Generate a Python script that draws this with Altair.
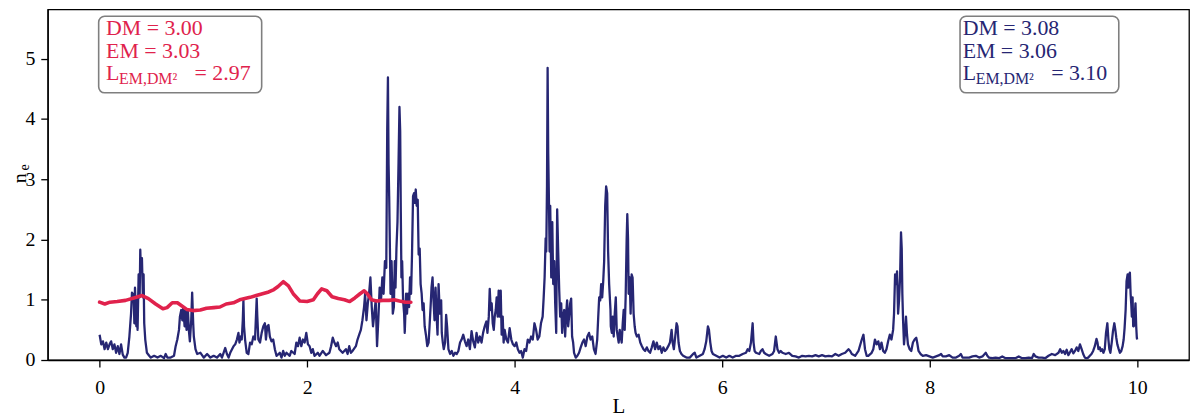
import altair as alt
import pandas as pd

# ---- data ----
blue_points = [
    (0.000, 0.42), (0.016, 0.26), (0.032, 0.31), (0.048, 0.18), (0.064, 0.29), (0.080, 0.18),
    (0.096, 0.26), (0.111, 0.31), (0.127, 0.18), (0.143, 0.26), (0.159, 0.12), (0.175, 0.23),
    (0.191, 0.10), (0.207, 0.26), (0.223, 0.09), (0.239, 0.04), (0.255, 0.04), (0.271, 0.12),
    (0.287, 0.39), (0.303, 0.77), (0.312, 1.12), (0.328, 1.07), (0.335, 0.61), (0.341, 1.20),
    (0.354, 0.56), (0.360, 1.04), (0.366, 0.50), (0.376, 1.42), (0.386, 1.04), (0.392, 1.83),
    (0.398, 1.47), (0.408, 1.69), (0.417, 1.04), (0.424, 1.42), (0.430, 0.61), (0.440, 0.34),
    (0.456, 0.12), (0.478, 0.07), (0.494, 0.04), (0.526, 0.07), (0.558, 0.04), (0.590, 0.07),
    (0.621, 0.03), (0.637, 0.10), (0.653, 0.04), (0.685, 0.04), (0.717, 0.07), (0.733, 0.23),
    (0.749, 0.34), (0.765, 0.50), (0.774, 0.72), (0.787, 0.83), (0.797, 0.66), (0.806, 0.88),
    (0.819, 0.56), (0.829, 0.83), (0.838, 0.50), (0.851, 0.83), (0.860, 0.50), (0.870, 0.31),
    (0.883, 0.66), (0.892, 1.12), (0.902, 0.61), (0.908, 0.39), (0.924, 0.18), (0.940, 0.10),
    (0.972, 0.12), (1.004, 0.04), (1.036, 0.10), (1.068, 0.04), (1.099, 0.07), (1.131, 0.04),
    (1.163, 0.10), (1.179, 0.04), (1.195, 0.12), (1.211, 0.20), (1.227, 0.10), (1.243, 0.04),
    (1.259, 0.12), (1.291, 0.23), (1.307, 0.26), (1.323, 0.34), (1.338, 0.45), (1.348, 0.29),
    (1.361, 0.39), (1.370, 0.34), (1.380, 0.66), (1.386, 0.99), (1.392, 0.56), (1.402, 0.34),
    (1.418, 0.12), (1.434, 0.10), (1.450, 0.29), (1.466, 0.26), (1.482, 0.39), (1.498, 0.34),
    (1.514, 1.02), (1.520, 0.72), (1.530, 0.34), (1.546, 0.29), (1.562, 0.45), (1.578, 0.56),
    (1.593, 0.61), (1.603, 0.34), (1.616, 0.56), (1.628, 0.58), (1.641, 0.39), (1.657, 0.31),
    (1.673, 0.34), (1.689, 0.18), (1.705, 0.07), (1.737, 0.12), (1.753, 0.04), (1.769, 0.15),
    (1.785, 0.07), (1.801, 0.12), (1.832, 0.07), (1.848, 0.15), (1.880, 0.10), (1.896, 0.29),
    (1.912, 0.23), (1.928, 0.37), (1.944, 0.23), (1.960, 0.34), (1.976, 0.29), (1.992, 0.45),
    (2.008, 0.26), (2.024, 0.23), (2.040, 0.12), (2.055, 0.18), (2.071, 0.07), (2.103, 0.12),
    (2.119, 0.07), (2.151, 0.15), (2.183, 0.08), (2.215, 0.12), (2.231, 0.23), (2.247, 0.37),
    (2.263, 0.29), (2.279, 0.23), (2.295, 0.29), (2.310, 0.18), (2.342, 0.12), (2.374, 0.18),
    (2.390, 0.10), (2.406, 0.23), (2.422, 0.12), (2.438, 0.15), (2.470, 0.23), (2.486, 0.34),
    (2.502, 0.42), (2.518, 0.50), (2.533, 0.66), (2.549, 0.88), (2.559, 1.10), (2.572, 0.66),
    (2.585, 0.94), (2.597, 1.10), (2.610, 1.37), (2.623, 0.88), (2.635, 0.56), (2.648, 0.77),
    (2.661, 0.99), (2.674, 0.23), (2.686, 0.66), (2.699, 1.20), (2.712, 0.99), (2.725, 1.37),
    (2.737, 1.10), (2.750, 1.64), (2.763, 1.53), (2.772, 3.80), (2.779, 4.69), (2.785, 3.26),
    (2.791, 2.72), (2.798, 1.85), (2.804, 1.10), (2.814, 1.64), (2.826, 0.77), (2.836, 0.88),
    (2.845, 1.64), (2.852, 1.20), (2.861, 1.85), (2.871, 2.29), (2.881, 3.26), (2.890, 4.20),
    (2.897, 3.80), (2.903, 2.45), (2.909, 1.37), (2.916, 1.64), (2.925, 0.99), (2.935, 0.77),
    (2.941, 0.45), (2.954, 1.10), (2.963, 0.77), (2.973, 1.10), (2.983, 0.88), (2.992, 1.37),
    (3.002, 1.10), (3.011, 1.75), (3.021, 2.72), (3.031, 2.77), (3.037, 2.61), (3.047, 2.83),
    (3.056, 2.56), (3.066, 2.66), (3.075, 1.75), (3.085, 1.85), (3.094, 1.26), (3.104, 1.10),
    (3.113, 0.83), (3.123, 0.94), (3.133, 0.56), (3.145, 0.42), (3.158, 0.23), (3.171, 0.29),
    (3.180, 0.56), (3.190, 0.88), (3.199, 1.20), (3.209, 1.37), (3.218, 0.99), (3.228, 0.66),
    (3.238, 1.20), (3.247, 0.77), (3.257, 0.42), (3.267, 1.26), (3.279, 0.77), (3.292, 0.99),
    (3.298, 0.45), (3.308, 0.29), (3.317, 0.18), (3.330, 0.29), (3.340, 0.75), (3.349, 0.56),
    (3.362, 0.18), (3.378, 0.10), (3.394, 0.15), (3.410, 0.07), (3.426, 0.12), (3.442, 0.10),
    (3.458, 0.15), (3.474, 0.29), (3.489, 0.34), (3.505, 0.42), (3.521, 0.31), (3.537, 0.23),
    (3.553, 0.34), (3.569, 0.18), (3.585, 0.48), (3.601, 0.31), (3.617, 0.21), (3.633, 0.45),
    (3.649, 0.29), (3.665, 0.39), (3.681, 0.29), (3.696, 0.45), (3.712, 0.56), (3.728, 0.64),
    (3.738, 0.45), (3.751, 0.72), (3.760, 1.18), (3.770, 0.83), (3.779, 0.94), (3.789, 0.61),
    (3.799, 0.50), (3.808, 0.72), (3.818, 0.83), (3.827, 1.04), (3.837, 0.72), (3.846, 1.15),
    (3.856, 0.72), (3.866, 1.15), (3.875, 0.42), (3.885, 0.72), (3.894, 0.29), (3.904, 0.50),
    (3.920, 0.34), (3.936, 0.29), (3.952, 0.53), (3.968, 0.34), (3.984, 0.26), (4.000, 0.23),
    (4.016, 0.29), (4.031, 0.18), (4.047, 0.12), (4.063, 0.15), (4.079, 0.04), (4.095, 0.18),
    (4.111, 0.15), (4.127, 0.34), (4.143, 0.29), (4.159, 0.39), (4.175, 0.34), (4.191, 0.61),
    (4.207, 0.50), (4.222, 0.34), (4.238, 0.39), (4.254, 0.61), (4.270, 0.72), (4.280, 1.04),
    (4.289, 1.37), (4.299, 2.02), (4.305, 1.80), (4.312, 2.88), (4.318, 4.85), (4.324, 3.42),
    (4.331, 2.61), (4.337, 1.80), (4.343, 2.56), (4.353, 1.37), (4.363, 2.29), (4.372, 1.26),
    (4.382, 1.64), (4.391, 0.94), (4.401, 0.45), (4.410, 2.50), (4.420, 1.80), (4.430, 1.15),
    (4.439, 0.72), (4.449, 0.94), (4.458, 0.45), (4.468, 0.72), (4.478, 0.83), (4.487, 0.39),
    (4.497, 0.77), (4.506, 0.99), (4.516, 0.56), (4.525, 0.72), (4.535, 0.94), (4.545, 1.02),
    (4.554, 0.39), (4.564, 0.29), (4.573, 0.12), (4.589, 0.04), (4.605, 0.07), (4.621, 0.12),
    (4.637, 0.21), (4.653, 0.29), (4.669, 0.34), (4.685, 0.23), (4.701, 0.39), (4.717, 0.45),
    (4.732, 0.34), (4.748, 0.39), (4.764, 0.18), (4.780, 0.10), (4.796, 0.34), (4.806, 0.72),
    (4.815, 1.04), (4.825, 0.99), (4.834, 1.26), (4.844, 1.04), (4.854, 1.31), (4.863, 1.64),
    (4.873, 2.56), (4.882, 2.88), (4.892, 2.77), (4.901, 1.80), (4.911, 1.26), (4.924, 0.83),
    (4.927, 0.56), (4.937, 0.45), (4.946, 0.72), (4.955, 0.39), (4.965, 0.77), (4.975, 1.04),
    (4.984, 0.50), (4.994, 0.39), (5.003, 0.29), (5.013, 0.50), (5.022, 0.39), (5.032, 0.29),
    (5.042, 0.61), (5.051, 0.83), (5.061, 0.50), (5.070, 1.04), (5.080, 2.02), (5.086, 2.42),
    (5.093, 2.02), (5.099, 1.10), (5.109, 1.37), (5.118, 0.77), (5.128, 1.42), (5.137, 1.37),
    (5.147, 0.77), (5.157, 0.56), (5.166, 0.45), (5.179, 0.39), (5.195, 0.42), (5.211, 0.29),
    (5.227, 0.23), (5.242, 0.18), (5.258, 0.15), (5.274, 0.21), (5.290, 0.15), (5.306, 0.12),
    (5.322, 0.21), (5.338, 0.31), (5.354, 0.18), (5.370, 0.29), (5.386, 0.18), (5.402, 0.23),
    (5.418, 0.12), (5.434, 0.21), (5.449, 0.15), (5.465, 0.18), (5.481, 0.23), (5.497, 0.29),
    (5.513, 0.50), (5.523, 0.29), (5.535, 0.18), (5.548, 0.39), (5.561, 0.61), (5.570, 0.56),
    (5.580, 0.29), (5.593, 0.15), (5.608, 0.10), (5.624, 0.07), (5.656, 0.04), (5.688, 0.04),
    (5.720, 0.10), (5.736, 0.12), (5.752, 0.04), (5.784, 0.07), (5.815, 0.10), (5.831, 0.18),
    (5.847, 0.31), (5.863, 0.56), (5.873, 0.50), (5.886, 0.29), (5.898, 0.15), (5.911, 0.10),
    (5.943, 0.07), (5.975, 0.04), (6.007, 0.07), (6.039, 0.04), (6.070, 0.07), (6.102, 0.04),
    (6.134, 0.07), (6.166, 0.07), (6.198, 0.10), (6.230, 0.12), (6.246, 0.18), (6.262, 0.15),
    (6.278, 0.29), (6.294, 0.61), (6.303, 0.29), (6.313, 0.15), (6.326, 0.12), (6.358, 0.10),
    (6.373, 0.15), (6.389, 0.18), (6.405, 0.12), (6.421, 0.10), (6.453, 0.07), (6.485, 0.10),
    (6.501, 0.15), (6.517, 0.39), (6.533, 0.18), (6.549, 0.12),
    (6.565, 0.15), (6.581, 0.12), (6.613, 0.10), (6.644, 0.12), (6.676, 0.07), (6.708, 0.06),
    (6.740, 0.04), (6.772, 0.07), (6.804, 0.06), (6.836, 0.07), (6.868, 0.06), (6.900, 0.08),
    (6.931, 0.06), (6.963, 0.08), (6.995, 0.06), (7.027, 0.07), (7.059, 0.06), (7.091, 0.10),
    (7.123, 0.07), (7.154, 0.10), (7.186, 0.12), (7.218, 0.18), (7.234, 0.15), (7.250, 0.10),
    (7.282, 0.07), (7.314, 0.15), (7.346, 0.34), (7.362, 0.42), (7.377, 0.18), (7.393, 0.07),
    (7.409, 0.07), (7.441, 0.12), (7.457, 0.18), (7.473, 0.34), (7.489, 0.26), (7.505, 0.31),
    (7.521, 0.18), (7.536, 0.29), (7.552, 0.15), (7.568, 0.12), (7.584, 0.18), (7.600, 0.31),
    (7.616, 0.42), (7.632, 0.34), (7.648, 0.50), (7.657, 0.77), (7.667, 1.42), (7.677, 1.26),
    (7.686, 1.47), (7.696, 0.77), (7.705, 0.99), (7.715, 1.37), (7.724, 2.12), (7.731, 1.85),
    (7.737, 1.10), (7.744, 0.66), (7.753, 0.26), (7.763, 0.45), (7.772, 0.72), (7.782, 0.42),
    (7.791, 0.26), (7.807, 0.18), (7.823, 0.15), (7.839, 0.29), (7.855, 0.34), (7.871, 0.37),
    (7.880, 0.29), (7.893, 0.15), (7.912, 0.10), (7.934, 0.07), (7.966, 0.08), (7.998, 0.06),
    (8.030, 0.04), (8.062, 0.06), (8.094, 0.08), (8.110, 0.10), (8.126, 0.06), (8.157, 0.06),
    (8.189, 0.08),
    (8.222, 0.04), (8.254, 0.04), (8.285, 0.07), (8.301, 0.10), (8.317, 0.04), (8.349, 0.04),
    (8.381, 0.04), (8.413, 0.06), (8.445, 0.07), (8.477, 0.04), (8.509, 0.06), (8.541, 0.12),
    (8.556, 0.07), (8.572, 0.04), (8.604, 0.03), (8.636, 0.04), (8.668, 0.03), (8.700, 0.06),
    (8.732, 0.03), (8.764, 0.03), (8.795, 0.03), (8.827, 0.03), (8.859, 0.06), (8.891, 0.03),
    (8.923, 0.03), (8.955, 0.04), (8.987, 0.03), (9.003, 0.10), (9.019, 0.06), (9.050, 0.04),
    (9.082, 0.04), (9.114, 0.03), (9.146, 0.07), (9.178, 0.10), (9.210, 0.08), (9.242, 0.12),
    (9.258, 0.18), (9.274, 0.12), (9.289, 0.15), (9.305, 0.10), (9.321, 0.17), (9.337, 0.08),
    (9.353, 0.13), (9.369, 0.18), (9.385, 0.11), (9.401, 0.15), (9.417, 0.21), (9.433, 0.15),
    (9.449, 0.26), (9.465, 0.18), (9.480, 0.10), (9.496, 0.04), (9.512, 0.03), (9.528, 0.04),
    (9.544, 0.07), (9.560, 0.10), (9.576, 0.15), (9.592, 0.23), (9.608, 0.35), (9.618, 0.29),
    (9.627, 0.18), (9.640, 0.21), (9.649, 0.15), (9.662, 0.18), (9.675, 0.12), (9.688, 0.18),
    (9.700, 0.45), (9.713, 0.61), (9.723, 0.34), (9.732, 0.18), (9.742, 0.12), (9.755, 0.29),
    (9.767, 0.48), (9.780, 0.61), (9.790, 0.50), (9.799, 0.37), (9.809, 0.26), (9.822, 0.18),
    (9.834, 0.12), (9.847, 0.15), (9.860, 0.23), (9.870, 0.34), (9.879, 0.53), (9.889, 0.83),
    (9.898, 1.31), (9.908, 1.42), (9.914, 1.20), (9.921, 1.39), (9.930, 1.45), (9.937, 1.10),
    (9.943, 0.94), (9.949, 0.72), (9.956, 1.04), (9.962, 0.56), (9.968, 0.56), (9.978, 0.77),
    (9.984, 0.94), (9.991, 0.56), (9.997, 0.37), (10.000, 0.34),
]

red_L = [0.00, 0.05, 0.10, 0.17, 0.25, 0.33, 0.37, 0.41, 0.47, 0.54, 0.61, 0.65, 0.70, 0.75,
         0.79, 0.84, 0.90, 0.97, 1.03, 1.10, 1.16, 1.22, 1.29, 1.35, 1.40, 1.45, 1.51, 1.57,
         1.63, 1.68, 1.72, 1.77, 1.82, 1.87, 1.93, 2.00, 2.06, 2.10, 2.14, 2.19, 2.24, 2.30,
         2.36, 2.41, 2.46, 2.51, 2.55, 2.58, 2.62, 2.67, 2.73, 2.79, 2.84, 2.89, 2.95, 3.00]
red_ne = [0.96, 0.93, 0.96, 0.97, 0.99, 1.03, 1.05, 1.07, 1.02, 0.93, 0.85, 0.87, 0.95, 0.95,
          0.90, 0.84, 0.82, 0.83, 0.86, 0.87, 0.88, 0.93, 0.95, 1.00, 1.02, 1.04, 1.07, 1.10,
          1.13, 1.17, 1.22, 1.30, 1.23, 1.09, 0.98, 0.97, 1.00, 1.10, 1.18, 1.15, 1.05, 1.02,
          1.00, 0.97, 1.03, 1.10, 1.15, 1.10, 1.00, 0.98, 0.99, 0.99, 1.00, 0.98, 0.96, 0.96]

red_stats = ["3.00", "3.03", "2.97"]
blue_stats = ["3.08", "3.06", "3.10"]
x_ticks = [0, 2, 4, 6, 8, 10]
y_ticks = [0, 1, 2, 3, 4, 5]

# ---- style ----
RED = "#e0224c"
BLUE = "#262673"
FONT = "Liberation Serif"
X_DOM = [-0.5, 10.5]
Y_DOM = [0, 5.82]
W, H = 1149, 353

blue_df = pd.DataFrame(blue_points, columns=["L", "ne"])
red_df = pd.DataFrame({"L": red_L, "ne": red_ne})

xs = alt.Scale(domain=X_DOM, nice=False, zero=False)
ys = alt.Scale(domain=Y_DOM, nice=False, zero=False)

blue_line = alt.Chart(blue_df).mark_line(color=BLUE, strokeWidth=2.3, strokeJoin="round").encode(
    x=alt.X("L:Q", scale=xs, axis=alt.Axis(values=x_ticks, format="d", title="L", grid=False,
                                           tickSize=7, labelPadding=11, titleFontSize=21,
                                           titleFontWeight="normal", titleY=36,
                                           titleBaseline="top")),
    y=alt.Y("ne:Q", scale=ys, axis=alt.Axis(values=y_ticks, format="d", title=None, grid=False,
                                            tickSize=7, labelPadding=6)),
    order="L:Q",
)
red_line = alt.Chart(red_df).mark_line(color=RED, strokeWidth=3.6, strokeJoin="round",
                                       strokeCap="round").encode(
    x=alt.X("L:Q", scale=xs), y=alt.Y("ne:Q", scale=ys), order="L:Q")

# annotation boxes (data coordinates)
def box(x0, x1):
    df = pd.DataFrame({"L": [x0], "L2": [x1], "ne": [5.705], "ne2": [4.435]})
    return alt.Chart(df).mark_rect(fill="white", stroke="#7f7f7f", strokeWidth=1.6,
                                   cornerRadius=6).encode(
        x=alt.X("L:Q", scale=xs), x2="L2:Q", y=alt.Y("ne:Q", scale=ys), y2="ne2:Q")

def texts(x_text, x_sub, x_eq, stats, color):
    main = pd.DataFrame({
        "L": [x_text, x_text, x_text, x_eq],
        "ne": [5.387, 5.017, 4.650, 4.650],
        "t": ["DM = " + stats[0], "EM = " + stats[1], "L", "= " + stats[2]],
    })
    sub = pd.DataFrame({"L": [x_sub], "ne": [4.589], "t": ["EM,DM²"]})
    m = alt.Chart(main).mark_text(align="left", baseline="alphabetic", font=FONT, fontSize=22,
                                  color=color).encode(
        x=alt.X("L:Q", scale=xs), y=alt.Y("ne:Q", scale=ys), text="t:N")
    s = alt.Chart(sub).mark_text(align="left", baseline="alphabetic", font=FONT, fontSize=16,
                                 color=color).encode(
        x=alt.X("L:Q", scale=xs), y=alt.Y("ne:Q", scale=ys), text="t:N")
    return m + s

left_box = box(-0.009, 1.562)
right_box = box(8.293, 9.823)
left_txt = texts(0.062, 0.188, 0.915, red_stats, RED)
right_txt = texts(8.318, 8.444, 9.171, blue_stats, BLUE)

# y axis title n_e (n with subscript e)
one = pd.DataFrame({"k": [0]})
ytitle_n = alt.Chart(one).mark_text(text="n", font=FONT, fontSize=20, angle=270,
                                    align="center", baseline="middle", color="black").encode(
    x=alt.value(-28), y=alt.value(170))
ytitle_e = alt.Chart(one).mark_text(text="e", font=FONT, fontSize=14, angle=270,
                                    align="center", baseline="middle", color="black").encode(
    x=alt.value(-23), y=alt.value(159))

chart = alt.layer(
    blue_line, red_line, left_box, right_box, left_txt, right_txt, ytitle_n, ytitle_e
).properties(
    width=W, height=H,
    autosize=alt.AutoSizeParams(type="none"),
    padding={"left": 40, "top": 0, "right": 3, "bottom": 59},
).configure(
    font=FONT,
).configure_view(
    stroke="black", strokeWidth=1.3
).configure_axis(
    labelFont=FONT, titleFont=FONT, labelFontSize=20, labelColor="black",
    domainColor="black", domainWidth=1.3, tickColor="black", tickWidth=1.3,
    titleColor="black",
)

chart.save("out.html", embed_options={"renderer": "svg", "actions": False})
